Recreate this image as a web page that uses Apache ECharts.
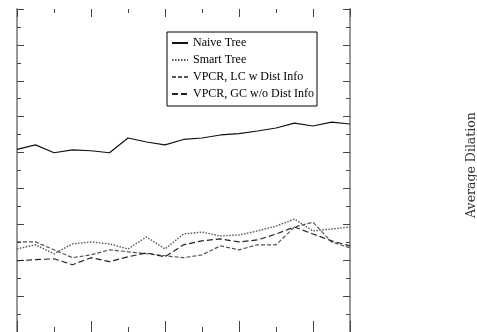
<!DOCTYPE html>
<html>
<head>
<meta charset="utf-8">
<script src="https://cdn.jsdelivr.net/npm/echarts@6/dist/echarts.min.js"></script>
<style>
html,body{margin:0;padding:0;background:#fff;}
#chart{width:477px;height:332px;}
</style>
</head>
<body>
<div id="chart"></div>
<script>
// ---- data ----
const xValues = [0,1,2,3,4,5,6,7,8,9,10,11,12,13,14,15,16,17,18];
const seriesNames = ['Naive Tree', 'Smart Tree', 'VPCR, LC w Dist Info', 'VPCR, GC w/o Dist Info'];
const naiveTree = [10.18,10.43,9.99,10.15,10.10,9.99,10.81,10.59,10.43,10.73,10.81,10.98,11.06,11.20,11.37,11.64,11.48,11.70,11.59];
const smartTree = [4.63,4.86,4.36,4.91,5.02,4.91,4.63,5.30,4.63,5.46,5.57,5.35,5.41,5.63,5.90,6.29,5.63,5.74,5.85];
const vpcrLC    = [5.02,5.02,4.58,4.14,4.30,4.58,4.47,4.36,4.25,4.14,4.30,4.80,4.58,4.86,4.86,5.85,6.12,5.02,4.69];
const vpcrGC    = [3.97,4.03,4.08,3.75,4.14,3.92,4.19,4.41,4.19,4.86,5.08,5.19,5.02,5.13,5.46,5.85,5.46,5.08,4.80];
const yAxisTitle = 'Average Dilation';
const xMin = 0, xMax = 18, yMin = 0, yMax = 18;

const chart = echarts.init(document.getElementById('chart'), null, {renderer: 'canvas'});
const pairs = arr => arr.map((v, i) => [xValues[i], v]);

const tickColor = '#444';
function xAx(pos, interval, len) {
  return {
    type: 'value', position: pos, min: xMin, max: xMax, interval: interval,
    axisLine: {show: false},
    axisTick: {show: true, inside: true, length: len, lineStyle: {color: tickColor, width: 1}},
    axisLabel: {show: false}, splitLine: {show: false}
  };
}
function yAx(pos) {
  return {
    type: 'value', position: pos, min: yMin, max: yMax, interval: 2,
    axisLine: {show: true, onZero: false, lineStyle: {color: '#999', width: 2}},
    axisTick: {show: true, inside: true, length: 7, lineStyle: {color: tickColor, width: 1}},
    minorTick: {show: true, splitNumber: 2, length: 4, lineStyle: {color: tickColor, width: 1}},
    axisLabel: {show: false}, splitLine: {show: false}, minorSplitLine: {show: false}
  };
}

const styles = [
  {color: '#111', width: 1.2, type: 'solid'},
  {color: '#555', width: 1.4, type: [1.5, 1.5]},
  {color: '#555', width: 1.2, type: [4, 2]},
  {color: '#222', width: 1.2, type: [6, 3]}
];
const datasets = [naiveTree, smartTree, vpcrLC, vpcrGC];

chart.setOption({
  animation: false,
  backgroundColor: '#fff',
  grid: {left: 17, top: 9, width: 333, height: 326, containLabel: false},
  xAxis: [
    xAx('bottom', 2, 5), xAx('bottom', 4, 11),
    xAx('top', 2, 4), xAx('top', 4, 8)
  ],
  yAxis: [yAx('left'), yAx('right')],
  legend: {
    orient: 'vertical', left: 167, top: 32,
    itemWidth: 16, itemHeight: 14, itemGap: 5,
    padding: [5, 3, 6, 4],
    borderColor: '#000', borderWidth: 1,
    backgroundColor: '#fff',
    itemStyle: {opacity: 0},
    textStyle: {fontFamily: 'Liberation Serif', fontSize: 12, color: '#000'},
    data: seriesNames
  },
  series: datasets.map((d, i) => ({
    name: seriesNames[i], type: 'line', xAxisIndex: 0, yAxisIndex: 0,
    data: pairs(d), symbol: 'none', showSymbol: false,
    lineStyle: styles[i], itemStyle: {color: styles[i].color}
  })),
  graphic: [{
    type: 'text', x: 472, y: 165, rotation: Math.PI / 2,
    style: {text: yAxisTitle, fill: '#333', font: '12.5px "DejaVu Serif"',
            textAlign: 'center', textVerticalAlign: 'middle'}
  }]
});
</script>
</body>
</html>
